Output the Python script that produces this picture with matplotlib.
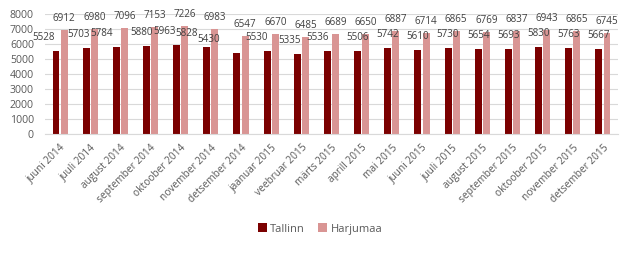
import matplotlib
matplotlib.use("Agg")
import matplotlib.pyplot as plt
import numpy as np

categories = ["juuni 2014", "juuli 2014", "august 2014", "september 2014", "oktoober 2014",
              "november 2014", "detsember 2014", "jaanuar 2015", "veebruar 2015", "märts 2015",
              "aprill 2015", "mai 2015", "juuni 2015", "juuli 2015", "august 2015",
              "september 2015", "oktoober 2015", "november 2015", "detsember 2015"]
tallinn = [5528, 5703, 5784, 5880, 5963, 5828, 5430, 5530, 5335, 5536,
           5506, 5742, 5610, 5730, 5654, 5693, 5830, 5763, 5667]
harjumaa = [6912, 6980, 7096, 7153, 7226, 6983, 6547, 6670, 6485, 6689,
            6650, 6887, 6714, 6865, 6769, 6837, 6943, 6865, 6745]
yticks = [0, 1000, 2000, 3000, 4000, 5000, 6000, 7000, 8000]

# horizontal label shifts (pixels) for Tallinn labels, as placed in the original
tallinn_label_dx = [-12, -8, -15, -5, -12, -20, -28, -11, -8, -10,
                    0, 0, 0, 0, 0, 0, 0, 0, 0]

FONT = "Open Sans"
c_tal = "#7b0000"
c_har = "#d99594"
txt = "#404040"
tick_c = "#595959"

fig = plt.figure(figsize=(6.35, 2.65), dpi=100)
ax = fig.add_axes([45 / 635, 1 - 134 / 265, (618 - 45) / 635, (134 - 14) / 265])

x = np.arange(len(categories))
w = 0.23
off = 0.135
b1 = ax.bar(x - off, tallinn, w, color=c_tal, label="Tallinn", zorder=2)
b2 = ax.bar(x + off, harjumaa, w, color=c_har, label="Harjumaa", zorder=2)

px = 72 / 100
for i, v in enumerate(tallinn):
    ax.annotate(str(v), (x[i] - off, v), xytext=(tallinn_label_dx[i] * px, 8 * px),
                textcoords="offset points", ha="center", va="bottom",
                fontsize=7.1, family=FONT, color=txt, zorder=5)
for i, v in enumerate(harjumaa):
    ax.annotate(str(v), (x[i] + off, v), xytext=(0, 6 * px),
                textcoords="offset points", ha="center", va="bottom",
                fontsize=7.1, family=FONT, color=txt, zorder=5)

ax.set_xlim(-0.5, len(categories) - 0.5)
ax.set_ylim(0, 8000)
ax.set_yticks(yticks)
ax.set_yticklabels([str(t) for t in yticks], family=FONT, fontsize=7.6, color=tick_c)
ax.set_xticks(x)
ax.set_xticklabels(categories, rotation=45, ha="right", rotation_mode="anchor",
                   family=FONT, fontsize=7.3, color=tick_c)
ax.tick_params(axis="both", length=0)
ax.tick_params(axis="y", pad=8)
ax.tick_params(axis="x", pad=6)
ax.grid(axis="y", color="#d9d9d9", linewidth=0.8, zorder=0)
ax.set_axisbelow(True)
for s in ["top", "right", "left"]:
    ax.spines[s].set_visible(False)
ax.spines["bottom"].set_color("#d9d9d9")
ax.spines["bottom"].set_linewidth(0.8)

leg = fig.legend(handles=[b1, b2], loc="center", bbox_to_anchor=(320 / 635, 1 - 229 / 265),
                 ncol=2, frameon=False, prop={"family": FONT, "size": 8},
                 handlelength=0.8, handleheight=0.8, handletextpad=0.3, columnspacing=1.2)
for t in leg.get_texts():
    t.set_color(tick_c)

fig.savefig("out.png", dpi=100)
